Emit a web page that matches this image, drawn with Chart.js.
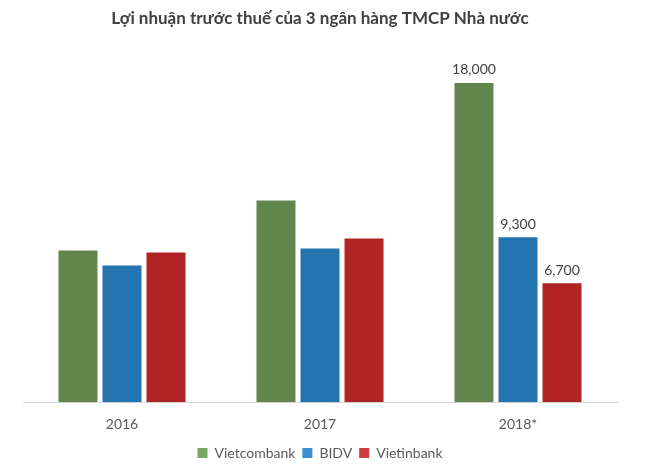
<!DOCTYPE html>
<html>
<head>
<meta charset="utf-8">
<script src="https://cdn.jsdelivr.net/npm/chart.js@4"></script>
<style>
  html, body { margin: 0; padding: 0; background: #fff; }
  #wrap { width: 650px; height: 472px; }
</style>
</head>
<body>
<div id="wrap"><canvas id="profitChart"></canvas></div>
<script>
// Lợi nhuận trước thuế (tỷ đồng)
const years = ['2016', '2017', '2018*'];
const vietcombank = [8550, 11370, 18000];
const bidv = [7700, 8660, 9300];
const vietinbank = [8440, 9230, 6700];
// chỉ năm 2018* có nhãn số liệu
const labelledIndex = 2;

const barColors = ['#62854e', '#2474b0', '#b22326'];
const legendColors = ['#7aa564', '#3c91d2', '#d23d3d'];

const FONT = 'Lato, "Open Sans", sans-serif';

// vẽ nhãn giá trị phía trên cột
const valueLabels = {
    id: 'valueLabels',
    afterDatasetsDraw(chart) {
        const ctx = chart.ctx;
        ctx.save();
        ctx.font = '14px ' + FONT;
        ctx.fillStyle = '#404040';
        ctx.textAlign = 'center';
        ctx.textBaseline = 'bottom';
        chart.data.datasets.forEach((ds, i) => {
            const bar = chart.getDatasetMeta(i).data[labelledIndex];
            const v = ds.data[labelledIndex];
            ctx.fillText(v.toLocaleString('en-US'), bar.x, bar.y - 6);
        });
        ctx.restore();
    }
};

new Chart(document.getElementById('profitChart'), {
    type: 'bar',
    data: {
        labels: years,
        datasets: [
            { label: 'Vietcombank', data: vietcombank, backgroundColor: barColors[0] },
            { label: 'BIDV', data: bidv, backgroundColor: barColors[1] },
            { label: 'Vietinbank', data: vietinbank, backgroundColor: barColors[2] }
        ]
    },
    options: {
        responsive: true,
        maintainAspectRatio: false,
        animation: false,
        datasets: { bar: { categoryPercentage: 0.667, barPercentage: 0.886 } },
        layout: { padding: { top: 8, left: 23, right: 33, bottom: 2 } },
        scales: {
            x: {
                grid: { display: false },
                border: { display: true, color: '#d9d9d9', width: 1 },
                ticks: { color: '#595959', font: { family: FONT, size: 14 }, padding: 6 }
            },
            y: { display: false, min: 0, max: 20000 }
        },
        plugins: {
            title: {
                display: true,
                text: 'Lợi nhuận trước thuế của 3 ngân hàng TMCP Nhà nước',
                color: '#404040',
                font: { family: FONT, size: 17, weight: 'bold' },
                padding: { top: 0, bottom: 19 }
            },
            legend: {
                position: 'bottom',
                labels: {
                    color: '#595959',
                    font: { family: FONT, size: 14 },
                    boxWidth: 10,
                    boxHeight: 10,
                    padding: 7,
                    generateLabels: (chart) => chart.data.datasets.map((ds, i) => ({
                        text: ds.label,
                        fillStyle: legendColors[i],
                        strokeStyle: legendColors[i],
                        lineWidth: 0,
                        fontColor: '#595959',
                        datasetIndex: i
                    }))
                }
            },
            tooltip: { enabled: false }
        }
    },
    plugins: [valueLabels]
});
</script>
</body>
</html>
